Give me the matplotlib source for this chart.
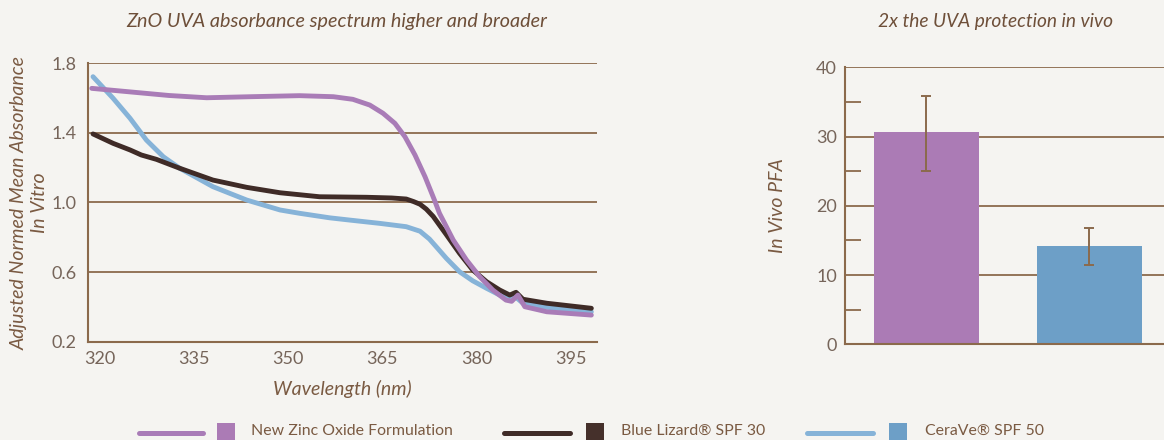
import matplotlib.pyplot as plt
import numpy as np
from matplotlib.lines import Line2D
from matplotlib.patches import Rectangle

# spectrum data
wl_zno = [318.7, 325, 331, 337.0, 344, 351.8, 357.2, 360.3, 363.0, 365.1, 367.0, 368.6, 370.2, 371.8,
          373.3, 374.1, 376.3, 378.4, 380.5, 382.6, 384.7, 385.6, 386.6, 387.7, 391.2, 398.3]
abs_zno = [1.656, 1.635, 1.615, 1.602, 1.608, 1.614, 1.608, 1.593, 1.560, 1.513, 1.455, 1.378, 1.273, 1.148,
           1.014, 0.938, 0.784, 0.670, 0.574, 0.497, 0.439, 0.432, 0.468, 0.401, 0.372, 0.353]

wl_blue_lizard = [318.9, 322.1, 324.8, 326.6, 329.0, 332.7, 338.0, 343.4, 348.7, 355.0, 362.5, 366.5,
                  368.8, 370.0, 371.0, 372.0, 373.1, 374.1, 375.2, 377.3, 379.4, 381.6, 383.7, 385.3,
                  386.3, 387.4, 391.2, 398.3]
abs_blue_lizard = [1.394, 1.340, 1.302, 1.273, 1.248, 1.197, 1.129, 1.087, 1.056, 1.033, 1.030, 1.026,
                   1.020, 1.005, 0.990, 0.962, 0.920, 0.870, 0.815, 0.708, 0.612, 0.545, 0.497, 0.468,
                   0.484, 0.444, 0.421, 0.392]

wl_cerave = [318.9, 322.1, 324.8, 327.4, 330.1, 332.7, 338.0, 343.4, 348.7, 351.8, 356.6, 359.8, 364.6,
             368.8, 371.0, 372.5, 373.6, 375.2, 377.3, 379.4, 381.6, 383.7, 385.3, 386.3, 387.4, 391.2, 398.3]
abs_cerave = [1.723, 1.599, 1.484, 1.359, 1.263, 1.197, 1.091, 1.014, 0.957, 0.938, 0.912, 0.899, 0.880,
              0.861, 0.835, 0.790, 0.745, 0.679, 0.602, 0.550, 0.507, 0.468, 0.449, 0.455, 0.421, 0.398, 0.372]

# in vivo PFA bars
produtos = ['New Zinc Oxide Formulation', 'CeraVe® SPF 50']
pfa = [30.7, 14.2]
pfa_err_low = [5.7, 2.75]
pfa_err_high = [5.2, 2.6]

legend_labels = ['New Zinc Oxide Formulation', 'Blue Lizard® SPF 30', 'CeraVe® SPF 50']

bg = '#f5f4f1'
brown = '#8b6a4c'
txt = '#7a5a42'
tick_txt = '#76655a'
c_purple_line = '#a97cb7'
c_dark_line = '#3f2b27'
c_blue_line = '#86b3d8'
c_purple_bar = '#ab7bb5'
c_dark_bar = '#45302b'
c_blue_bar = '#6d9fc7'

plt.rcParams['font.family'] = ['Lato', 'DejaVu Sans']

W, H = 1164, 440
fig = plt.figure(figsize=(W / 100, H / 100), dpi=100, facecolor=bg)

def px(x0, y0, x1, y1):
    return [x0 / W, 1 - y1 / H, (x1 - x0) / W, (y1 - y0) / H]

# ---- left: absorbance spectrum
ax = fig.add_axes(px(88, 63.3, 597, 341.7))
ax.set_facecolor(bg)
kw = dict(lw=3.5, solid_capstyle='round', solid_joinstyle='round')
ax.plot(wl_cerave, abs_cerave, color=c_blue_line, **kw)
ax.plot(wl_blue_lizard, abs_blue_lizard, color=c_dark_line, **kw)
ax.plot(wl_zno, abs_zno, color=c_purple_line, **kw)
ax.set_xlim(318.1, 399.2)
ax.set_ylim(0.2, 1.8)
ax.set_xticks([320, 335, 350, 365, 380, 395])
ax.set_yticks([0.2, 0.6, 1.0, 1.4, 1.8])
ax.yaxis.set_major_formatter(plt.FormatStrFormatter('%.1f'))
ax.grid(axis='y', color=brown, lw=1.3)
ax.set_axisbelow(True)
for s in ['top', 'right']:
    ax.spines[s].set_visible(False)
for s in ['left', 'bottom']:
    ax.spines[s].set_color(brown)
    ax.spines[s].set_linewidth(1.5)
ax.tick_params(axis='x', length=0, labelsize=13, labelcolor=tick_txt, pad=7)
ax.tick_params(axis='y', length=0, labelsize=13, labelcolor=tick_txt, pad=8)
ax.set_xlabel('Wavelength (nm)', fontsize=14, style='italic', color=txt, labelpad=9)
ax.set_ylabel('Adjusted Normed Mean Absorbance\nIn Vitro', fontsize=14, style='italic',
              color=txt, linespacing=1.2, labelpad=3)

# ---- right: in vivo PFA
ax2 = fig.add_axes(px(845.3, 67.3, 1164, 344.3))
ax2.set_facecolor(bg)
pos = np.arange(len(produtos))
ax2.bar(pos, pfa, width=0.645, color=[c_purple_bar, c_blue_bar], zorder=2)
ax2.errorbar(pos, pfa, yerr=[pfa_err_low, pfa_err_high], fmt='none', ecolor=brown,
             elinewidth=1.4, capsize=3.5, capthick=1.4, zorder=3)
ax2.set_xlim(-0.497, 1.46)
ax2.set_ylim(0, 40)
ax2.set_yticks([0, 10, 20, 30, 40])
ax2.set_yticks([5, 15, 25, 35], minor=True)
ax2.set_xticks([])
ax2.grid(axis='y', which='major', color=brown, lw=1.3, zorder=0)
for s in ['top', 'right']:
    ax2.spines[s].set_visible(False)
for s in ['left', 'bottom']:
    ax2.spines[s].set_color(brown)
    ax2.spines[s].set_linewidth(1.5)
ax2.tick_params(axis='y', which='major', length=0, labelsize=13, labelcolor=tick_txt, pad=6)
ax2.tick_params(axis='y', which='minor', direction='in', length=11.5, width=1.3, color=brown)
ax2.set_ylabel('In Vivo PFA', fontsize=14, style='italic', color=txt, labelpad=22)

# titles
fig.text(337 / W, 1 - 22 / H, 'ZnO UVA absorbance spectrum higher and broader', ha='center', va='center',
         fontsize=14.2, style='italic', color='#6e4f39')
fig.text(995 / W, 1 - 22 / H, '2x the UVA protection in vivo', ha='center', va='center',
         fontsize=13.8, style='italic', color='#6e4f39')

# legend across the bottom
leg_lines = [(139, 203), (504, 570), (807, 873)]
leg_boxes = [217, 586, 889]
leg_text = [251, 621, 925]
line_cols = [c_purple_line, c_dark_line, c_blue_line]
box_cols = [c_purple_bar, c_dark_bar, c_blue_bar]
for i, lab in enumerate(legend_labels):
    x0, x1 = leg_lines[i]
    fig.add_artist(Line2D([x0 / W, x1 / W], [1 - 433 / H] * 2, transform=fig.transFigure,
                          color=line_cols[i], lw=3.6, solid_capstyle='round'))
    fig.add_artist(Rectangle((leg_boxes[i] / W, 1 - 442 / H), 18 / W, 19 / H,
                             transform=fig.transFigure, color=box_cols[i], lw=0))
    fig.text(leg_text[i] / W, 1 - 431 / H, lab, ha='left', va='center', fontsize=11.4, color=txt)

fig.savefig('out.png', dpi=100, facecolor=bg)
